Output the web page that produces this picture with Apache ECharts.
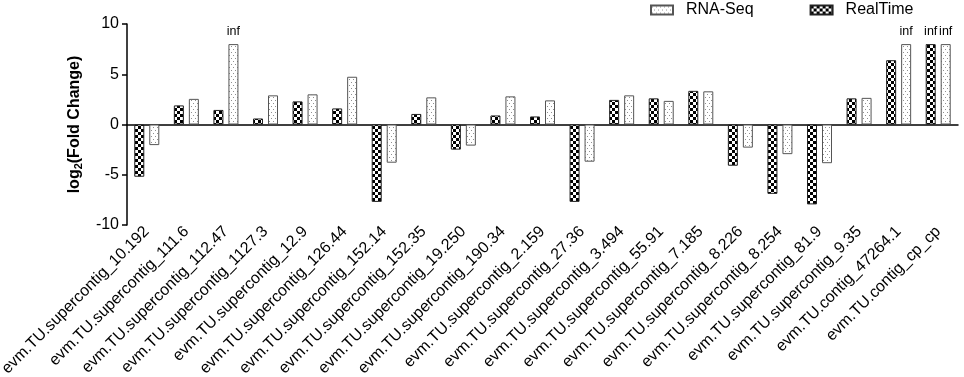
<!DOCTYPE html>
<html>
<head>
<meta charset="utf-8">
<script src="https://cdn.jsdelivr.net/npm/echarts@6/dist/echarts.min.js"></script>
<style>
html, body { margin: 0; padding: 0; background: #fff; }
#content { width: 964px; height: 377px; }
</style>
</head>
<body>
<div id="content"></div>
<script>
var categories = [
    'evm.TU.supercontig_10.192', 'evm.TU.supercontig_111.6', 'evm.TU.supercontig_112.47',
    'evm.TU.supercontig_1127.3', 'evm.TU.supercontig_12.9', 'evm.TU.supercontig_126.44',
    'evm.TU.supercontig_152.14', 'evm.TU.supercontig_152.35', 'evm.TU.supercontig_19.250',
    'evm.TU.supercontig_190.34', 'evm.TU.supercontig_2.159', 'evm.TU.supercontig_27.36',
    'evm.TU.supercontig_3.494', 'evm.TU.supercontig_55.91', 'evm.TU.supercontig_7.185',
    'evm.TU.supercontig_8.226', 'evm.TU.supercontig_8.254', 'evm.TU.supercontig_81.9',
    'evm.TU.supercontig_9.35', 'evm.TU.contig_47264.1', 'evm.TU.contig_cp_cp'
];
// log2 倍数变化，inf 画成 8
var realTime = [-5.2, 1.9, 1.45, 0.6, 2.3, 1.6, -7.7, 1.05, -2.5, 0.9, 0.8, -7.7, 2.45, 2.6, 3.35, -4.1, -6.9, -7.95, 2.6, 6.4, 8];
var rnaSeq = [-2.05, 2.55, 8, 2.9, 3.0, 4.75, -3.8, 2.7, -2.1, 2.8, 2.4, -3.7, 2.9, 2.35, 3.3, -2.3, -2.95, -3.85, 2.65, 8, 8];
var realTimeInf = [20];
var rnaSeqInf = [2, 19, 20];
var yTicks = [-10, -5, 0, 5, 10];

var font = 'Liberation Sans, Arial, sans-serif';

// 棋盘格图案
function checkerPattern() {
    var c = document.createElement('canvas');
    c.width = 6; c.height = 6;
    var ctx = c.getContext('2d');
    ctx.fillStyle = '#fff';
    ctx.fillRect(0, 0, 6, 6);
    ctx.fillStyle = '#000';
    ctx.fillRect(0, 0, 3, 3);
    ctx.fillRect(3, 3, 3, 3);
    return { image: c, repeat: 'repeat' };
}
// 点状图案
function dotPattern() {
    var c = document.createElement('canvas');
    c.width = 4; c.height = 6;
    var ctx = c.getContext('2d');
    ctx.fillStyle = '#fff';
    ctx.fillRect(0, 0, 4, 6);
    ctx.fillStyle = '#909090';
    ctx.fillRect(1, 1, 1, 1);
    ctx.fillRect(3, 4, 1, 1);
    return { image: c, repeat: 'repeat' };
}

function buildData(values, infList) {
    return values.map(function (v, i) {
        if (infList.indexOf(i) >= 0) {
            return { value: v, label: { show: true, formatter: 'inf' } };
        }
        return v;
    });
}

var chart = echarts.init(document.getElementById('content'));

var option = {
    animation: false,
    textStyle: { fontFamily: font },
    grid: { left: 127, right: 6, top: 24, bottom: 152, outerBoundsMode: 'none', containLabel: false },
    legend: {
        data: ['RNA-Seq', 'RealTime'],
        left: 645, top: -3,
        icon: 'rect',
        itemWidth: 22, itemHeight: 9,
        itemGap: 56,
        textStyle: { fontSize: 16, color: '#000', fontFamily: font, padding: [0, 0, 0, 8] }
    },
    xAxis: {
        type: 'category',
        data: categories,
        axisLine: { onZero: true, lineStyle: { color: '#000', width: 1.5 } },
        axisTick: { alignWithLabel: true, length: 5, lineStyle: { color: '#000', width: 1.5 } },
        axisLabel: {
            interval: 0, rotate: 45, margin: 4, hideOverlap: false,
            fontSize: 16, color: '#000', fontFamily: font
        }
    },
    yAxis: {
        type: 'value',
        min: -10, max: 10, interval: 5,
        name: '{a|log}{s|2}{a|(Fold Change)}',
        nameLocation: 'middle',
        nameRotate: 90,
        nameGap: 43,
        nameTextStyle: {
            rich: {
                a: { fontSize: 16, fontWeight: 'bold', color: '#000', fontFamily: font },
                s: { fontSize: 11, fontWeight: 'bold', color: '#000', fontFamily: font, padding: [8, 0, 0, 0] }
            }
        },
        splitLine: { show: false },
        axisLine: { show: true, lineStyle: { color: '#000', width: 1.5 } },
        axisTick: { show: true, length: 5, lineStyle: { color: '#000', width: 1.5 } },
        axisLabel: {
            fontSize: 16, color: '#000', fontFamily: font, margin: 8,
            formatter: function (v) { return yTicks.indexOf(v) >= 0 ? String(v) : ''; }
        }
    },
    series: [
        {
            name: 'RealTime',
            type: 'bar',
            barWidth: 10,
            barGap: '50%',
            data: buildData(realTime, realTimeInf),
            itemStyle: { color: checkerPattern(), borderColor: '#222', borderWidth: 1 },
            labelLayout: { hideOverlap: false },
            label: { position: 'top', distance: 6, fontSize: 12.5, color: '#000', fontFamily: font }
        },
        {
            name: 'RNA-Seq',
            type: 'bar',
            barWidth: 10,
            data: buildData(rnaSeq, rnaSeqInf),
            itemStyle: { color: dotPattern(), borderColor: '#555', borderWidth: 1 },
            labelLayout: { hideOverlap: false },
            label: { position: 'top', distance: 6, fontSize: 12.5, color: '#000', fontFamily: font }
        }
    ]
};

chart.setOption(option);
</script>
</body>
</html>
